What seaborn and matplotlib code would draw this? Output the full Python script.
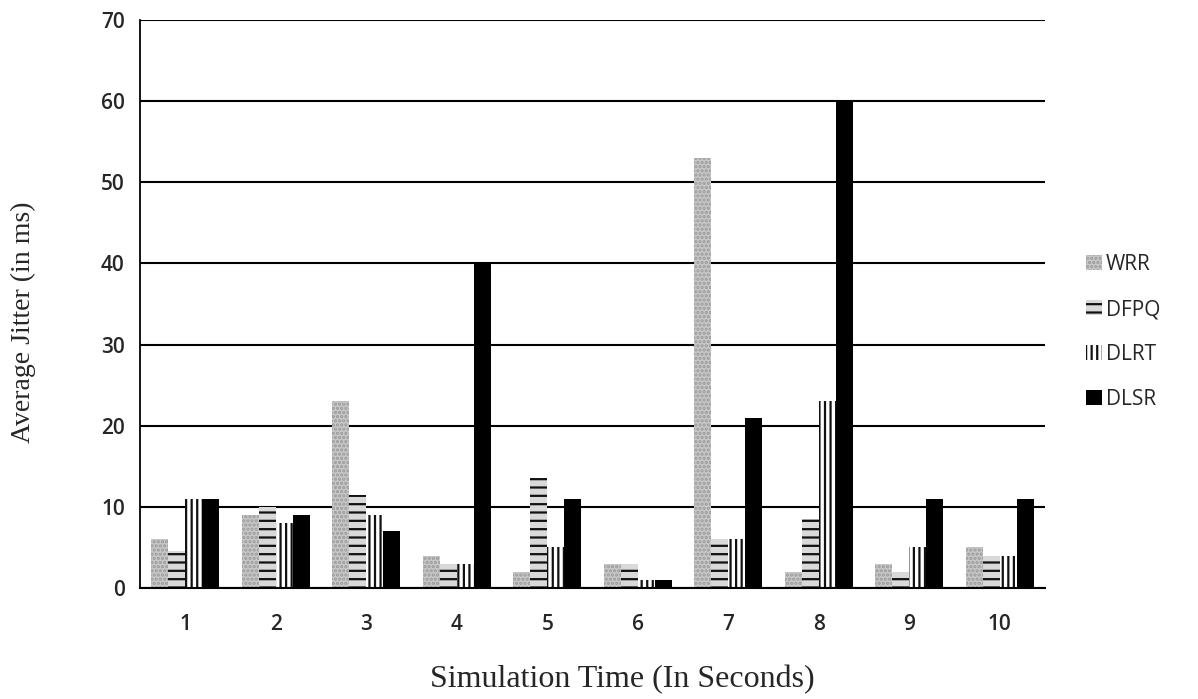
import matplotlib
matplotlib.use("Agg")
import matplotlib.pyplot as plt
import seaborn as sns
import pandas as pd
import numpy as np
from matplotlib.patches import Patch

categories = ["1", "2", "3", "4", "5", "6", "7", "8", "9", "10"]
series_names = ["WRR", "DFPQ", "DLRT", "DLSR"]
wrr = [6, 9, 23, 4, 2, 3, 53, 2, 3, 5]
dfpq = [4.5, 10, 11.5, 3, 13.5, 3, 6, 8.5, 2, 4]
dlrt = [11, 8, 9, 3, 5, 1, 6, 23, 5, 4]
dlsr = [11, 9, 7, 40, 11, 1, 21, 60, 11, 11]
yticks = [0, 10, 20, 30, 40, 50, 60, 70]

rows = []
for name, vals in zip(series_names, [wrr, dfpq, dlrt, dlsr]):
    for c, v in zip(categories, vals):
        rows.append({"time": c, "series": name, "jitter": v})
df = pd.DataFrame(rows)

sns.set_style("white")
plt.rcParams["hatch.linewidth"] = 1.6
fig = plt.figure(figsize=(11.98, 6.99), dpi=100)
ax = fig.add_axes([0.1169, 0.1588, 0.7554, 0.8126])

styles = {
    "WRR": dict(fc="#c8c8c8", hatch="....", ec="#9a9a9a"),
    "DFPQ": dict(fc="#d9d9d9", hatch="--", ec="#111111"),
    "DLRT": dict(fc="#ffffff", hatch="|||", ec="#111111"),
    "DLSR": dict(fc="#000000", hatch="", ec="#000000"),
}

sns.barplot(data=df, x="time", y="jitter", hue="series", order=categories,
            hue_order=series_names, width=0.75, gap=0, ax=ax, legend=False,
            saturation=1, errorbar=None)

for cont, name in zip(ax.containers, series_names):
    st = styles[name]
    for p in cont:
        p.set_facecolor(st["fc"])
        p.set_hatch(st["hatch"])
        p.set_edgecolor(st["ec"])
        p.set_linewidth(0)

ax.set_ylim(0, 70)
ax.set_xlim(-0.5, 9.5)
ax.set_yticks(yticks)
ax.yaxis.grid(True, color="black", linewidth=1.5)
ax.set_axisbelow(True)
for s in ["top", "right"]:
    ax.spines[s].set_visible(False)
ax.spines["left"].set_color("black")
ax.spines["bottom"].set_color("black")
ax.spines["left"].set_linewidth(1.3)
ax.spines["bottom"].set_linewidth(1.5)

ax.set_xticks(np.arange(-0.5, 10, 1.0), minor=True)
ax.tick_params(axis="x", which="major", length=0, pad=19, labelsize=15)
ax.tick_params(axis="x", which="minor", length=7, width=1.5, color="black", direction="out")
ax.tick_params(axis="y", which="major", length=6, width=1.3, color="black", direction="out",
               pad=5, labelsize=15)
for lbl in ax.get_xticklabels() + ax.get_yticklabels():
    lbl.set_family("Open Sans")
    lbl.set_fontweight("semibold")

ax.set_xlabel("Simulation Time (In Seconds)", family="Liberation Serif", fontsize=23)
ax.xaxis.set_label_coords(0.533, -0.135)
ax.set_ylabel("Average Jitter (in ms)", family="Liberation Serif", fontsize=20)
ax.yaxis.set_label_coords(-0.115, 0.467)

handles = [Patch(facecolor=styles[n]["fc"], hatch=styles[n]["hatch"],
                 edgecolor=styles[n]["ec"], linewidth=0, label=n) for n in series_names]
leg = fig.legend(handles=handles, loc="center left", bbox_to_anchor=(0.891, 0.525),
                 frameon=False, handlelength=0.75, handleheight=0.75, handletextpad=0.2,
                 labelspacing=1.15, prop={"family": "Open Sans", "size": 15})

fig.savefig("out.png", dpi=100)
